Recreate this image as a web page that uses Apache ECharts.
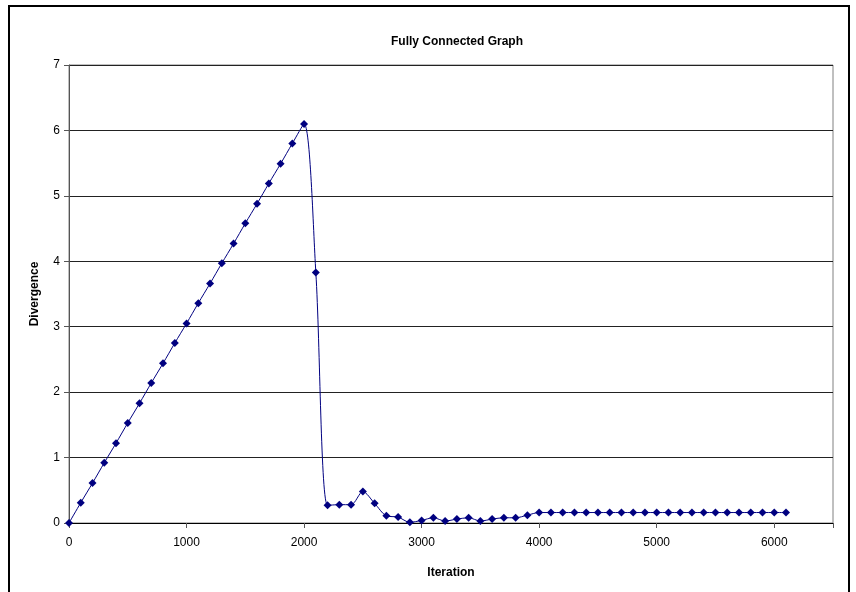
<!DOCTYPE html>
<html>
<head>
<meta charset="utf-8">
<script src="https://cdn.jsdelivr.net/npm/echarts@6/dist/echarts.min.js"></script>
<style>
html,body{margin:0;padding:0;background:#fff;}
#c{width:856px;height:592px;}
</style>
</head>
<body>
<div id="c"></div>
<script>
var chartTitle = "Fully Connected Graph";
var xAxisName = "Iteration";
var yAxisName = "Divergence";
var iterations = [];
for (var i = 0; i <= 6100; i += 100) iterations.push(i);
var divergence = [
  0, 0.31, 0.61, 0.92, 1.22, 1.53, 1.83, 2.14, 2.44, 2.75,
  3.05, 3.36, 3.66, 3.97, 4.27, 4.58, 4.88, 5.19, 5.49, 5.80,
  6.10, 3.83, 0.27, 0.28, 0.28, 0.48, 0.30, 0.11, 0.09, 0.01,
  0.04, 0.08, 0.03, 0.06, 0.08, 0.03, 0.06, 0.08, 0.08, 0.12,
  0.16, 0.16, 0.16, 0.16, 0.16, 0.16, 0.16, 0.16, 0.16, 0.16,
  0.16, 0.16, 0.16, 0.16, 0.16, 0.16, 0.16, 0.16, 0.16, 0.16,
  0.16, 0.16
];
var points = iterations.map(function (x, k) { return [x, divergence[k]]; });

var chart = echarts.init(document.getElementById('c'), null, {renderer: 'canvas'});
chart.setOption({
  animation: false,
  backgroundColor: '#ffffff',
  textStyle: {fontFamily: 'Liberation Sans, Arial, sans-serif'},
  title: {
    text: chartTitle, left: 452, top: 31, textAlign: 'center',
    textStyle: {fontSize: 12, fontWeight: 'bold', color: '#000', fontFamily: 'Liberation Sans, Arial, sans-serif'}
  },
  graphic: [{
    type: 'rect', shape: {x: 9, y: 6, width: 840, height: 600},
    style: {fill: 'none', stroke: '#000', lineWidth: 2}, silent: true
  }],
  grid: {left: 69, right: 23, top: 65, bottom: 69, show: true, borderColor: '#808080', borderWidth: 1, backgroundColor: 'transparent'},
  xAxis: {
    type: 'value', min: 0, max: 6500, interval: 1000,
    name: xAxisName, nameLocation: 'middle', nameGap: 44,
    nameTextStyle: {fontSize: 12, fontWeight: 'bold', color: '#000'},
    axisLine: {lineStyle: {color: '#000', width: 1}},
    axisTick: {show: true, length: 5, lineStyle: {color: '#555'}},
    axisLabel: {fontSize: 12, color: '#000', margin: 14, formatter: function(v){ return v <= 6000 ? String(v) : ''; }},
    splitLine: {show: false}
  },
  yAxis: {
    type: 'value', min: 0, max: 7, interval: 1,
    name: yAxisName, nameLocation: 'middle', nameGap: 28, nameRotate: 90,
    nameTextStyle: {fontSize: 12, fontWeight: 'bold', color: '#000'},
    axisLine: {show: true, lineStyle: {color: '#555', width: 1}},
    axisTick: {show: true, length: 5, lineStyle: {color: '#555'}},
    axisLabel: {fontSize: 12, color: '#000', margin: 9},
    splitLine: {show: true, lineStyle: {color: '#222', width: 1}}
  },
  series: [{
    type: 'line', data: points, smooth: 0.3,
    symbol: 'diamond', symbolSize: 8,
    itemStyle: {color: '#000080'},
    lineStyle: {color: '#000080', width: 1}
  }]
});
</script>
</body>
</html>
